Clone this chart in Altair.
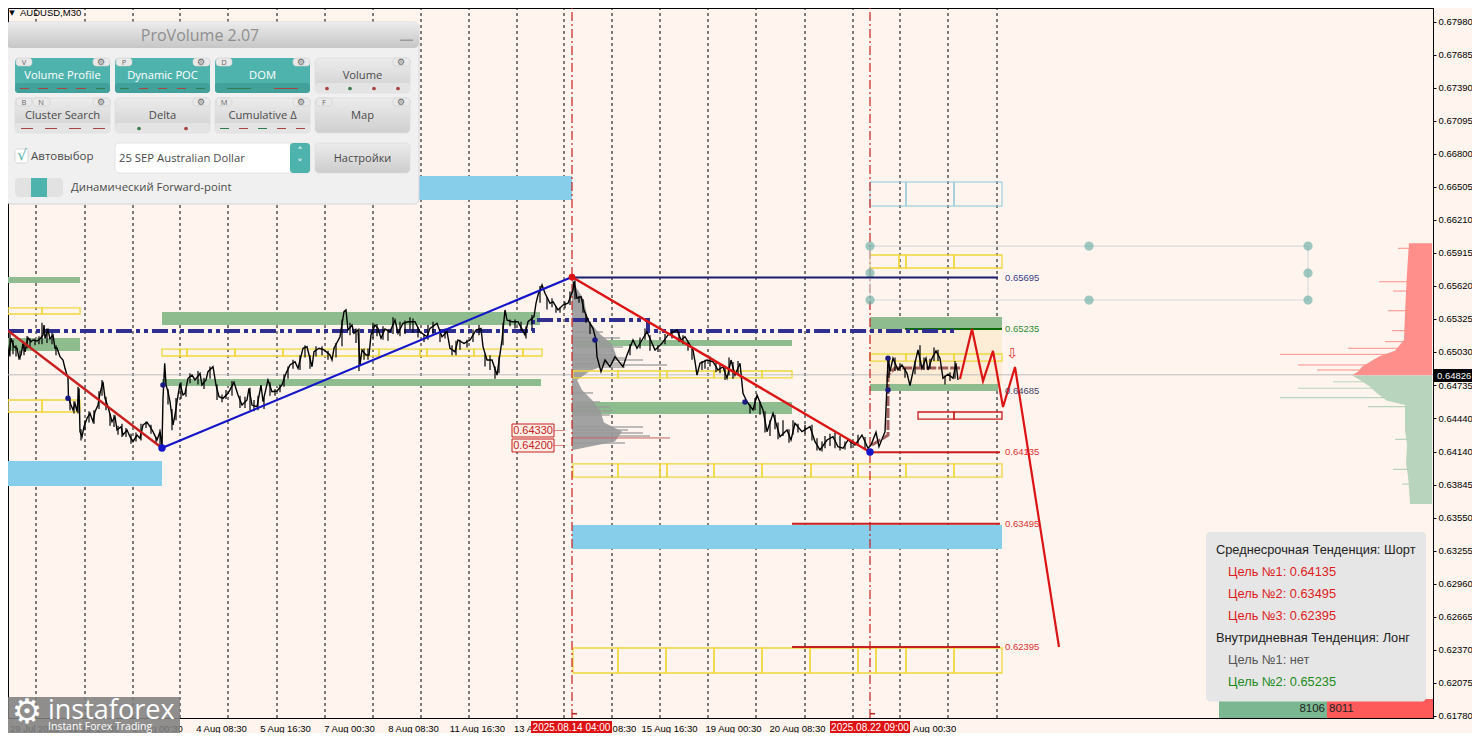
import altair as alt
import pandas as pd

# ---------- layout of the page ----------
W, H = 1425, 710
M = 8
X_DOMAIN = [8, 1433]
Y_DOMAIN = [0.61761, 0.68102]

# ---------- axis values ----------
price_ticks = [0.6798, 0.67685, 0.6739, 0.67095, 0.668, 0.66505, 0.6621, 0.65915, 0.6562, 0.65325, 0.6503,
               0.64735, 0.6444, 0.6414, 0.63845, 0.6355, 0.63255, 0.6296, 0.62665, 0.6237, 0.62075, 0.6178]
time_tick_pos = [34, 93, 157, 221, 285, 349, 413, 477, 523, 624, 669, 733, 797, 934]
time_tick_lab = ["29 Jul 2025", "31 Jul 16:30", "1 Aug 00:30", "4 Aug 08:30", "5 Aug 16:30", "7 Aug 00:30",
                 "8 Aug 08:30", "11 Aug 16:30", "13 A", "08:30", "15 Aug 16:30", "19 Aug 00:30",
                 "20 Aug 08:30", "Aug 00:30"]
grid_x = [36, 85, 133, 180, 228, 277, 325, 373, 421, 469, 517, 564, 612, 660, 708, 756, 805, 853, 900, 948, 997]

# ---------- price series (bar position, price in 1e-5) ----------
price_x = [6, 7, 9, 11, 14, 17, 19, 21, 23, 25, 28, 31, 33, 37, 40, 43, 44, 45, 48, 50, 53, 55, 57, 60, 63, 65, 68, 68.5,
           71, 73, 75, 77, 79, 80, 82, 84, 87, 90, 93, 95, 98, 100, 103, 105, 108, 112, 115, 117, 121, 123, 127, 130,
           133, 137, 140, 143, 147, 150, 153, 157, 160, 162, 163, 164.7, 166, 168, 170, 173, 175, 177, 180, 183, 185,
           188, 192, 195,
           200, 202, 206, 208, 213, 216, 219, 223, 228, 234, 238, 242, 247, 249, 252, 257, 261, 263, 268, 272, 277,
           282, 286, 290, 295, 298, 303, 307, 312, 314, 319, 324, 330, 332, 334, 340, 344, 346, 348, 352, 354, 358,
           360, 362, 366, 369, 371, 375, 378, 381, 385, 390, 395,
           398, 403, 408, 415, 420, 427, 430, 437, 442, 447, 450, 455, 458, 464, 470, 476, 481, 483, 487, 492, 497,
           502, 505, 507, 512, 518, 525, 528, 534, 536, 538, 542, 545, 550, 553, 558, 563, 568, 573, 574,
           577, 581, 584, 588, 593, 596, 597, 601, 605, 610, 615, 623, 627, 633, 637, 642, 647, 655, 662, 668, 677,
           681, 685, 693, 695, 697, 700, 707, 713, 718, 723, 727, 731, 735, 740, 743, 747, 753, 757, 763, 767, 773,
           780, 787, 791, 795, 802, 810, 815, 820, 827, 833, 838, 843, 848, 855, 862, 868,
           871, 876, 879, 885, 887, 888, 890, 893, 898, 902, 907, 910, 913, 918, 922, 926, 928, 932, 936, 940, 943,
           948, 953, 956, 958]
price_y = [65256, 65122, 64997, 65152, 65077, 65063, 64973, 65003, 65107, 65032, 65157, 65122, 65137, 65128, 65146,
           65182, 65271, 65152, 65226, 65146, 65182, 65063, 65065, 64988, 64958, 64884, 64795, 64616,
           64556, 64512, 64572, 64497, 64706, 64318, 64273, 64363, 64438, 64482, 64407, 64497, 64556, 64661, 64764,
           64616, 64541, 64407, 64452, 64333, 64363, 64288, 64333, 64273, 64229, 64288, 64259, 64378, 64402, 64363,
           64318, 64244, 64318, 64184, 64616, 64929, 64735, 64675, 64586, 64378, 64467, 64586, 64750, 64646, 64661,
           64795, 64824, 64780,
           64839, 64735, 64780, 64854, 64898, 64735, 64631, 64616, 64661, 64759, 64646, 64556, 64601, 64706, 64556,
           64541, 64735, 64586, 64780, 64675, 64681, 64735, 64839, 64914, 64943, 64884, 65063, 65077, 64898, 65032,
           65063, 65048, 65003, 64958, 65063, 65166, 65390, 65405, 65226, 65271, 65197, 65226, 64914, 65048, 65003,
           65003, 65182, 65271, 65241, 65152, 65235, 65211, 65315,
           65197, 65286, 65300, 65300, 65211, 65166, 65241, 65286, 65166, 65211, 65063, 65032, 65137, 65107, 65137,
           65226, 65241, 65077, 64958, 64958, 64824, 65137, 65405, 65315, 65300, 65300, 65182, 65300, 65345, 65465,
           65539, 65628, 65554, 65465, 65479, 65405, 65449, 65465, 65583, 65660,
           65509, 65524, 65405, 65315, 65241, 65137, 64988, 64854, 64958, 64898, 64988, 64898, 65003, 65137, 65063,
           65137, 65211, 65048, 65107, 65182, 65226, 65137, 65166, 65048, 64943, 64824, 64929, 64958, 64943, 64869,
           64898, 64795, 64958, 64824, 64929, 64661, 64586, 64512, 64646, 64512, 64318, 64482, 64273, 64333, 64244,
           64393, 64318, 64363, 64229, 64155, 64244, 64273, 64184, 64170, 64244, 64199, 64288, 64170,
           64199, 64313, 64184, 64318, 64735, 64973, 64854, 64973, 64869, 64914, 64839, 64729, 64854, 65048, 64884,
           64973, 64869, 64973, 65039, 64973, 64795, 64831, 64795, 64929, 64780]

bar_ranges = [(10, 65200, 64990), (13, 65140, 65010), (16, 65090, 64990), (20, 65040, 64960), (24, 65110, 65000),
              (27, 65170, 65060), (30, 65150, 65070), (35, 65150, 65090), (39, 65170, 65100), (42, 65290, 65100),
              (47, 65240, 65110), (52, 65200, 65100), (56, 65090, 65000), (70, 64620, 64510), (74, 64590, 64480),
              (78, 64720, 64480), (81, 64340, 64240), (85, 64420, 64330), (89, 64500, 64400), (94, 64510, 64390),
              (99, 64680, 64520), (102, 64780, 64640), (106, 64630, 64510), (110, 64480, 64370), (114, 64470, 64360),
              (118, 64370, 64290), (122, 64390, 64270), (126, 64350, 64270), (131, 64300, 64210), (136, 64310, 64230),
              (141, 64390, 64240), (146, 64410, 64350), (151, 64380, 64300), (156, 64270, 64210), (160, 64340, 64190),
              (168, 64700, 64560), (172, 64520, 64330), (176, 64620, 64420), (181, 64760, 64610), (186, 64700, 64630),
              (190, 64840, 64750), (198, 64860, 64740), (204, 64800, 64700), (210, 64900, 64790), (217, 64740, 64600),
              (222, 64650, 64580), (226, 64690, 64610), (232, 64770, 64640), (240, 64640, 64530), (245, 64630, 64530),
              (250, 64710, 64510), (254, 64600, 64500), (258, 64640, 64510), (264, 64620, 64520), (270, 64760, 64640),
              (275, 64700, 64640), (280, 64740, 64670), (284, 64830, 64720), (288, 64900, 64790), (293, 64960, 64880),
              (300, 65000, 64870), (305, 65090, 64980), (310, 65000, 64880), (316, 65080, 64990), (322, 65080, 65000),
              (328, 65040, 64960), (336, 65110, 64980), (342, 65320, 65080), (350, 65290, 65180), (356, 65240, 65110),
              (359, 65240, 64860), (364, 65060, 64960), (368, 65060, 64960), (373, 65290, 65150), (377, 65280, 65170),
              (383, 65260, 65140), (388, 65230, 65130), (393, 65340, 65190), (400, 65300, 65170), (405, 65310, 65190),
              (410, 65340, 65230), (413, 65330, 65200), (418, 65250, 65160), (424, 65190, 65120), (428, 65270, 65140),
              (433, 65300, 65190), (440, 65220, 65120), (445, 65240, 65150), (452, 65090, 65000), (456, 65130, 65000),
              (460, 65140, 65050), (467, 65140, 65070), (473, 65230, 65120), (479, 65270, 65180), (485, 65010, 64900),
              (490, 65000, 64870), (495, 64900, 64790), (499, 64990, 64840), (503, 65290, 65090), (510, 65320, 65260),
              (515, 65320, 65240), (521, 65300, 65220), (526, 65260, 65150), (532, 65360, 65240), (540, 65620, 65470),
              (547, 65520, 65410), (552, 65510, 65430), (556, 65440, 65380), (560, 65430, 65380), (565, 65480, 65420),
              (570, 65570, 65450), (575, 65670, 65500), (579, 65530, 65470), (583, 65500, 65380), (586, 65370, 65290),
              (590, 65300, 65190), (630, 65100, 65000), (640, 65160, 65060), (645, 65240, 65140), (650, 65180, 65040),
              (658, 65090, 65030), (665, 65190, 65100), (672, 65230, 65150), (679, 65210, 65120), (683, 65180, 65100),
              (688, 65120, 65040), (692, 65060, 64960), (702, 64950, 64870), (705, 64960, 64880), (710, 64990, 64900),
              (716, 64950, 64850), (720, 64920, 64840), (725, 64890, 64780), (729, 64980, 64820), (733, 64940, 64790),
              (738, 64950, 64830), (750, 64560, 64480), (755, 64620, 64510), (760, 64590, 64470), (765, 64500, 64310),
              (770, 64420, 64280), (775, 64470, 64340), (778, 64400, 64250), (783, 64420, 64280), (789, 64340, 64220),
              (793, 64420, 64290), (798, 64390, 64310), (805, 64380, 64300), (812, 64380, 64240), (817, 64260, 64150),
              (822, 64230, 64140), (825, 64280, 64170), (830, 64300, 64190), (835, 64310, 64170), (840, 64280, 64150),
              (845, 64230, 64160), (851, 64230, 64170), (858, 64290, 64190), (865, 64270, 64160), (889, 64980, 64800),
              (895, 64980, 64860), (900, 64930, 64860), (905, 64890, 64800), (915, 64950, 64830), (920, 65090, 64900),
              (924, 64980, 64870), (930, 64970, 64880), (934, 65070, 64950), (938, 65050, 64950), (945, 64820, 64740),
              (950, 64850, 64770), (955, 64950, 64790)]

# ---------- zones: x from, x to, price top, price bottom (1e-5) ----------
blue_zones = [(162, 572, 66601, 66387), (8, 162, 64056, 63833), (572, 1002, 63485, 63270)]
green_zones = [(8, 80, 65699, 65646), (8, 80, 65155, 65039), (162, 540, 65387, 65271), (162, 541, 64789, 64726),
               (572, 792, 65137, 65083), (572, 792, 64583, 64476), (870, 1002, 65342, 65235), (870, 998, 64744, 64681)]
beige_zones = [(870, 1002, 65235, 64744)]
yellow_boxes = [(8, 42, 65423, 65369), (42, 80, 65423, 65369), (8, 42, 64601, 64494), (42, 80, 64601, 64494),
                (162, 180, 65056, 64994), (180, 187, 65056, 64994), (187, 235, 65056, 64994), (235, 283, 65056, 64994),
                (283, 379, 65056, 64994), (379, 420, 65056, 64994), (420, 427, 65056, 64994), (427, 474, 65056, 64994),
                (474, 523, 65056, 64994), (523, 542, 65056, 64994),
                (573, 618, 64860, 64798), (618, 660, 64860, 64798), (660, 667, 64860, 64798), (667, 714, 64860, 64798),
                (714, 762, 64860, 64798), (762, 792, 64860, 64798),
                (573, 618, 64030, 63913), (618, 660, 64030, 63913), (660, 667, 64030, 63913), (667, 714, 64030, 63913),
                (714, 762, 64030, 63913), (762, 811, 64030, 63913), (811, 858, 64030, 63913), (858, 906, 64030, 63913),
                (906, 954, 64030, 63913), (954, 1002, 64030, 63913),
                (573, 618, 62386, 62163), (618, 666, 62386, 62163), (666, 714, 62386, 62163), (714, 762, 62386, 62163),
                (762, 810, 62386, 62163), (810, 858, 62386, 62163), (858, 876, 62386, 62163), (876, 906, 62386, 62163),
                (906, 954, 62386, 62163), (954, 1002, 62386, 62163),
                (870, 899, 65896, 65780), (899, 906, 65896, 65780), (906, 954, 65896, 65780), (954, 1002, 65896, 65780),
                (870, 906, 65012, 64949), (906, 954, 65012, 64949), (954, 1002, 65012, 64949)]
red_boxes = [(918, 954, 64494, 64431), (954, 1002, 64494, 64431)]
sky_boxes = [(870, 906, 66548, 66333), (906, 954, 66548, 66333), (954, 1002, 66548, 66333)]

# ---------- volume profiles: body outline and thin spikes ----------
left_base = 572
left_body_p = [65673, 65628, 65494, 65315, 65190, 65100, 64958, 64860, 64780, 64690, 64600, 64510, 64400, 64320, 64230, 64155]
left_body_v = [573, 575, 584, 588, 600, 612, 618, 590, 577, 582, 592, 600, 604, 622, 615, 573]
left_spike_p = [65208, 65155, 65074, 65003, 64976, 64958, 64931, 64914, 64896, 64664, 64583, 64539, 64503, 64467, 64360,
                64333, 64306, 64280, 64217]
left_spike_v = [603, 620, 623, 615, 625, 643, 623, 667, 625, 593, 600, 610, 612, 610, 643, 628, 643, 650, 625]
right_base = 1432
red_body_p = [66000, 65732, 65554, 65375, 65137, 65041, 64994, 64958, 64898, 64854, 64822]
red_body_v = [1409, 1407, 1406, 1405, 1404, 1395, 1380, 1373, 1362, 1358, 1352]
red_spike_p = [65956, 65657, 65574, 65398, 65220, 65122, 65063, 65009, 64914, 64869]
red_spike_v = [1398, 1379, 1393, 1388, 1392, 1385, 1348, 1280, 1298, 1317]
green_body_p = [64820, 64780, 64720, 64661, 64595, 64556, 64333, 64199, 64036, 63915, 63811, 63672]
green_body_v = [1352, 1360, 1370, 1377, 1387, 1405, 1405, 1407, 1406, 1408, 1409, 1410]
green_spike_p = [64764, 64706, 64622, 64541, 64250, 63982, 63850]
green_spike_v = [1333, 1298, 1280, 1368, 1395, 1393, 1402]

# ---------- drawn lines ----------
fall1 = [(8, 65220), (162, 64172)]
rise1 = [(162, 64172), (572, 65699)]
fall2 = [(572, 65699), (870, 64137)]
forecast = [(960, 64789), (972, 65235), (983, 64771), (993, 65039), (1003, 64539), (1015, 64896), (1059, 62395)]
poc_line = [(8, 65217), (533, 65217), (533, 65315), (648, 65315), (648, 65217), (958, 65217)]
brown_line = [(872, 64199), (888, 64288), (888, 64824), (895, 64887), (942, 64887), (960, 64887)]
levels = [(572, 998, 65695, "#1b1b6e"), (905, 1002, 65235, "#0b6b0b"), (870, 1000, 64135, "#c81e1e"),
          (792, 1000, 63495, "#c81e1e"), (792, 1000, 62395, "#c81e1e")]
level_labels = [(1005, 65695, "0.65695", "#3c3c8c"), (1005, 65235, "0.65235", "#2e8b2e"), (1005, 64681, "0.64685", "#444466"),
                (1005, 64135, "0.64135", "#e03030"), (1005, 63495, "0.63495", "#e03030"), (1005, 62395, "0.62395", "#e03030")]
small_dots = [(68, 64616), (163, 64735), (595, 65137), (745, 64583), (888, 64690), (888, 64973)]
node_blue = [(162, 64172), (870, 64137)]
node_red = [(572, 65699)]
target_dots = [(870, 65976), (870, 65735), (870, 65494), (1089, 65976), (1089, 65494), (1308, 65976), (1308, 65735), (1308, 65494)]
target_h = [(870, 1308, 65976), (870, 1308, 65494)]
target_v = [(870, 65976, 65494), (1308, 65976, 65494)]
red_vlines = [572, 870]
last_price = 0.64826

# ---------- text of the overlays ----------
info_lines = [("Среднесрочная Тенденция: Шорт", 1216, 550, "#222222"), ("Цель №1: 0.64135", 1228, 572, "#dd1c1c"),
              ("Цель №2: 0.63495", 1228, 594, "#dd1c1c"), ("Цель №3: 0.62395", 1228, 616, "#dd1c1c"),
              ("Внутридневная Тенденция: Лонг", 1216, 638, "#222222"), ("Цель №1: нет", 1228, 660, "#555555"),
              ("Цель №2: 0.65235", 1228, 682, "#1a8a1a")]
buyers, sellers = "8106", "8011"

# ---------- helpers ----------
AXF = "Liberation Sans"
label_map = ",".join(f"'{p}':'{t}'" for p, t in zip(time_tick_pos, time_tick_lab))
XAX = alt.Axis(values=time_tick_pos, labelExpr="{" + label_map + "}['' + datum.value]", grid=False, tickSize=0,
               labelFont=AXF, labelFontSize=9.5, labelColor="#000000", labelPadding=5, labelOverlap=False,
               domainColor="#000000", labelFlush=False, title=None)
YAX = alt.Axis(orient="right", values=price_ticks, format=".5f", grid=False, tickSize=3, tickColor="#000000",
               domainColor="#000000", labelFont=AXF, labelFontSize=9.5, labelColor="#000000", labelPadding=2,
               labelOverlap=False, title=None)
XS = alt.Scale(domain=X_DOMAIN, range=[0, W], nice=False, zero=False)
YS = alt.Scale(domain=Y_DOMAIN, range=[H, 0], nice=False, zero=False)
mx = alt.X("x:Q", scale=XS, axis=XAX)
my = alt.Y("y:Q", scale=YS, axis=YAX)


def zone(rows, **mark):
    df = pd.DataFrame([dict(x=a, x1=b, y=t / 1e5, y1=u / 1e5) for a, b, t, u in rows])
    return alt.Chart(df).mark_rect(**mark).encode(x=mx, x2=alt.X2("x1"), y=my, y2=alt.Y2("y1"))


def line(pts, **mark):
    df = pd.DataFrame([dict(x=a, y=b / 1e5, i=i) for i, (a, b) in enumerate(pts)])
    return alt.Chart(df).mark_line(**mark).encode(x=mx, y=my, order="i:Q")


def dots(pts, **mark):
    df = pd.DataFrame([dict(x=a, y=b / 1e5) for a, b in pts])
    return alt.Chart(df).mark_circle(**mark).encode(x=mx, y=my)


def profile(ps, vs, base, **mark):
    df = pd.DataFrame(dict(y=[p / 1e5 for p in ps], x=vs, b=[base] * len(vs)))
    return alt.Chart(df).mark_area(orient="horizontal", **mark).encode(y=my, x=mx, x2=alt.X2("b"))


def spikes(ps, vs, base, **mark):
    df = pd.DataFrame(dict(y=[p / 1e5 for p in ps], x=vs, b=[base] * len(vs)))
    return alt.Chart(df).mark_rule(**mark).encode(y=my, x=mx, x2=alt.X2("b"))


def ranges(rows, **mark):
    df = pd.DataFrame([dict(x=a, y=h / 1e5, y1=l / 1e5) for a, h, l in rows])
    return alt.Chart(df).mark_rule(**mark).encode(x=mx, y=my, y2=alt.Y2("y1"))


px_x = alt.X("a:Q", scale=None, axis=None)
px_y = alt.Y("c:Q", scale=None, axis=None)


def pbox(rows, **mark):
    df = pd.DataFrame([dict(a=r[0] - M, b=r[1] - M, c=r[2] - M, d=r[3] - M) for r in rows])
    return alt.Chart(df).mark_rect(**mark).encode(x=px_x, x2=alt.X2("b"), y=px_y, y2=alt.Y2("d"))


def ptext(rows, **mark):
    df = pd.DataFrame([dict(a=r[0] - M, c=r[1] - M, t=r[2]) for r in rows])
    return alt.Chart(df).mark_text(baseline="middle", **mark).encode(x=px_x, y=px_y, text="t:N")


def pdots(rows, **mark):
    df = pd.DataFrame([dict(a=r[0] - M, c=r[1] - M) for r in rows])
    return alt.Chart(df).mark_circle(**mark).encode(x=px_x, y=px_y)


def grad(top, bottom):
    return alt.LinearGradient(gradient="linear", x1=0, x2=0, y1=0, y2=1,
                              stops=[alt.GradientStop(color=top, offset=0), alt.GradientStop(color=bottom, offset=1)])


# ---------- market layers ----------
base = alt.Chart(pd.DataFrame(dict(x=grid_x, y=[Y_DOMAIN[0]] * len(grid_x)))).mark_rule(
    color="#000000", strokeWidth=1, strokeDash=[3, 3]).encode(x=mx, y=my, y2=alt.value(0))

layers = [base]
layers.append(zone(beige_zones, fill="#fdecd6"))
layers.append(zone(blue_zones, fill="#87ceeb"))
layers.append(zone(green_zones, fill="#8fbc8f"))
layers.append(line([(8, last_price * 1e5), (1433, last_price * 1e5)], color="#bdbdbd", strokeWidth=1))
layers.append(profile(left_body_p, left_body_v, left_base, color="#999999", opacity=0.9))
layers.append(spikes(left_spike_p, left_spike_v, left_base, color="#999999", strokeWidth=1.5, opacity=0.85))
layers.append(profile(red_body_p, red_body_v, right_base, color="#ff8f8a"))
layers.append(spikes(red_spike_p, red_spike_v, right_base, color="#ff8f8a", strokeWidth=1))
layers.append(profile(green_body_p, green_body_v, right_base, color="#b9d4bc"))
layers.append(spikes(green_spike_p, green_spike_v, right_base, color="#b9d4bc", strokeWidth=1.2))
layers.append(line([(572, 64262), (670, 64262)], color="#c86060", strokeWidth=1))
layers.append(zone(yellow_boxes, fill="transparent", stroke="#f0d83c", strokeWidth=1.3))
layers.append(zone(red_boxes, fill="transparent", stroke="#c81e1e", strokeWidth=1.3))
layers.append(zone(sky_boxes, fill="transparent", stroke="#8cc6dc", strokeWidth=1))
for xv in red_vlines:
    layers.append(line([(xv, Y_DOMAIN[0] * 1e5), (xv, Y_DOMAIN[1] * 1e5)], color="#c81e1e", strokeWidth=1.2,
                       strokeDash=[9, 3, 2, 3]))
for y_ in target_h:
    layers.append(line([(y_[0], y_[2]), (y_[1], y_[2])], color="#d9d9d9", strokeWidth=1.2))
for v_ in target_v:
    layers.append(line([(v_[0], v_[1]), (v_[0], v_[2])], color="#d9d9d9", strokeWidth=1.2))
layers.append(dots(target_dots, color="#5fa8a0", opacity=0.6, size=85))
for a, b, p, col in levels:
    layers.append(line([(a, p), (b, p)], color=col, strokeWidth=2))
layers.append(line(poc_line, color="#2f2f8f", strokeWidth=4, strokeDash=[16, 4, 4, 4, 4, 4]))
layers.append(line(brown_line, color="#8b3a3a", strokeWidth=3, strokeDash=[10, 2], opacity=0.8))
layers.append(ranges(bar_ranges, color="#000000", strokeWidth=1.2))
layers.append(line(list(zip(price_x, price_y)), color="#000000", strokeWidth=1.4))
layers.append(line(fall1, color="#c81e1e", strokeWidth=2.4))
layers.append(line(rise1, color="#1414c8", strokeWidth=2.2))
layers.append(line(fall2, color="#dc1414", strokeWidth=2.4))
layers.append(line(forecast, color="#dc1414", strokeWidth=2.2))
layers.append(dots(small_dots, color="#1a1a80", size=30, opacity=1))
layers.append(dots(node_blue, color="#1414c8", size=55, opacity=1))
layers.append(dots(node_red, color="#dc1414", size=45, opacity=1))
lab_df = pd.DataFrame([dict(x=a, y=p / 1e5, t=t, c=c) for a, p, t, c in level_labels])
layers.append(alt.Chart(lab_df).mark_text(align="left", baseline="middle", font=AXF, fontSize=9.5).encode(
    x=mx, y=my, text="t:N", color=alt.Color("c:N", scale=None)))
layers.append(ptext([(1012, 354, "⇩")], font="DejaVu Sans", fontSize=14, color="#e03030", align="center"))

# price tags
layers.append(pbox([(512, 554, 424, 437), (512, 554, 439, 452)], fill="#fdeee6", stroke="#c81e1e", strokeWidth=1))
layers.append(pbox([(554, 565, 430.5, 431), (554, 565, 445, 445.5)], fill="#c81e1e"))
layers.append(ptext([(533, 431, "0.64330"), (533, 446, "0.64200")], font=AXF, fontSize=11, color="#c81e1e", align="center"))

# info box and delta bar
layers.append(pbox([(1219, 1327, 699, 718)], fill="#7bb892"))
layers.append(pbox([(1327, 1433, 699, 718)], fill="#ff5a5a"))
layers.append(pbox([(1206, 1426, 532, 701.5)], fill="#e6e6e6", cornerRadius=4))
for t, xv, yv, c in info_lines:
    layers.append(ptext([(xv, yv, t)], font="Liberation Sans", fontSize=12.8, color=c, align="left"))
layers.append(ptext([(1325, 709, buyers)], font="Liberation Sans", fontSize=11.5, color="#222222", align="right"))
layers.append(ptext([(1329, 709, sellers)], font="Liberation Sans", fontSize=11.5, color="#222222", align="left"))

# last price tag, time tags
layers.append(pbox([(1434, 1473, 369, 382)], fill="#000000"))
layers.append(ptext([(1437, 375.5, "0.64826")], font=AXF, fontSize=9.5, color="#ffffff", align="left"))
layers.append(pbox([(531, 612, 721, 733), (830, 910, 721, 733)], fill="#dd1111"))
layers.append(ptext([(571.5, 727.5, "2025.08.14 04:00"), (870, 727.5, "2025.08.22 09:00")], font=AXF, fontSize=10,
                    color="#ffffff", align="center"))
layers.append(pbox([(572, 577, 713, 714.5), (870, 875, 713, 714.5)], fill="#c81e1e"))

# symbol caption
layers.append(ptext([(12, 13, "▼")], font="DejaVu Sans", fontSize=7, color="#000000", align="center"))
layers.append(ptext([(20, 12.5, "AUDUSD,M30")], font=AXF, fontSize=9.5, color="#000000", align="left"))

# ---------- ProVolume panel ----------
layers.append(pbox([(6, 419, 22, 204)], fill="#f0f0f0", cornerRadius=5, stroke="#d6d6d6", strokeWidth=1))
layers.append(pbox([(6, 419, 22, 48)], fill=grad("#ececec", "#c6c6c6"), cornerRadius=5))
layers.append(ptext([(200, 36, "ProVolume 2.07")], font="Open Sans", fontSize=16, color="#8f8f8f", align="center"))
layers.append(pbox([(400, 413, 39.5, 41)], fill="#9a9a9a"))

TEAL = "#4fb3ad"
teal_btn = [(15, 110, 58, 93), (115, 210, 58, 93), (215, 310, 58, 93)]
gray_btn = [(315, 410, 58, 93), (15, 110, 98, 133), (115, 210, 98, 133), (215, 310, 98, 133), (315, 410, 98, 133)]
layers.append(pbox(teal_btn, fill=TEAL, cornerRadius=4))
layers.append(pbox([(r[0], r[1], 83, 93) for r in teal_btn], fill="#43a19b", cornerRadius=3))
layers.append(pbox(gray_btn, fill=grad("#ececec", "#cfcfcf"), cornerRadius=4, stroke="#dddddd", strokeWidth=0.8))
layers.append(pbox([(r[0], r[1], r[3] - 10, r[3]) for r in gray_btn if r[:2] != (315, 410) or r[2] == 58],
                   fill="#e4e4e4", cornerRadius=3))
# tabs with shortcut letters and gears
tabs = [(16, 32, 58, 66), (116, 132, 58, 66), (216, 232, 58, 66), (16, 32, 98, 106), (33, 50, 98, 106), (216, 232, 98, 106),
        (316, 332, 98, 106), (93, 110, 58, 66), (193, 210, 58, 66), (293, 310, 58, 66), (393, 410, 58, 66),
        (93, 110, 98, 106), (193, 210, 98, 106), (293, 310, 98, 106), (393, 410, 98, 106)]
layers.append(pbox(tabs, fill="#e9e9e9", cornerRadius=3, stroke="#cfcfcf", strokeWidth=0.6))
layers.append(ptext([(24, 62.5, "V"), (124, 62.5, "P"), (224, 62.5, "D"), (24, 102.5, "B"), (41, 102.5, "N"),
                     (224, 102.5, "M"), (324, 102.5, "F")], font="Open Sans", fontSize=7.5, color="#666666", align="center"))
layers.append(ptext([(101, 62, "⚙"), (201, 62, "⚙"), (301, 62, "⚙"), (401, 62, "⚙"), (101, 102, "⚙"), (201, 102, "⚙"),
                     (301, 102, "⚙"), (401, 102, "⚙")], font="DejaVu Sans", fontSize=9, color="#666666", align="center"))
layers.append(ptext([(62.5, 76, "Volume Profile"), (162.5, 76, "Dynamic POC"), (262.5, 76, "DOM")], font="Open Sans",
                    fontSize=11.2, color="#ffffff", align="center"))
layers.append(ptext([(362.5, 76, "Volume"), (62.5, 116, "Cluster Search"), (162.5, 116, "Delta"),
                     (262.5, 116, "Cumulative Δ"), (362.5, 116, "Map")], font="Open Sans", fontSize=11.2,
                    color="#4a4a4a", align="center"))
red_dash = [(20, 29, 88, 89), (38, 48, 88, 89), (57, 67, 88, 89), (76, 86, 88, 89), (139, 148, 88, 89), (158, 167, 88, 89),
            (177, 186, 88, 89), (274, 298, 88, 89), (21, 33, 128, 129), (45, 57, 128, 129), (69, 81, 128, 129),
            (93, 105, 128, 129), (239, 248, 128, 129), (277, 286, 128, 129), (296, 305, 128, 129)]
green_dash = [(96, 105, 88, 89), (120, 129, 88, 89), (196, 205, 88, 89), (227, 251, 88, 89), (220, 229, 128, 129),
              (258, 267, 128, 129)]
layers.append(pbox(red_dash, fill="#a8453f"))
layers.append(pbox(green_dash, fill="#2f7d4f"))
layers.append(pdots([(327, 88.5), (374, 88.5), (398, 88.5), (186, 128.5)], color="#a8453f", size=14, opacity=1))
layers.append(pdots([(350, 88.5), (139, 128.5)], color="#3f7d4f", size=14, opacity=1))
# lower controls
layers.append(pbox([(15, 28, 149, 163)], fill="#ffffff", stroke="#d0d0d0", strokeWidth=0.8, cornerRadius=2))
layers.append(ptext([(22, 155, "√")], font="DejaVu Sans", fontSize=15, color=TEAL, align="center"))
layers.append(ptext([(31, 157, "Автовыбор")], font="Open Sans", fontSize=11.5, color="#4a4a4a", align="left"))
layers.append(pbox([(115, 310, 143, 173)], fill="#ffffff", cornerRadius=4, stroke="#dddddd", strokeWidth=0.8))
layers.append(pbox([(290, 310, 143, 173)], fill=TEAL, cornerRadius=3))
layers.append(ptext([(300, 152, "˄"), (300, 164, "˅")], font="DejaVu Sans", fontSize=11, color="#ffffff", align="center"))
layers.append(ptext([(119, 159, "25 SEP Australian Dollar")], font="Open Sans", fontSize=11.3, color="#4a4a4a", align="left"))
layers.append(pbox([(315, 410, 143, 173)], fill=grad("#ececec", "#cccccc"), cornerRadius=4, stroke="#dddddd", strokeWidth=0.8))
layers.append(ptext([(362.5, 159, "Настройки")], font="Open Sans", fontSize=11, color="#4a4a4a", align="center"))
layers.append(pbox([(15, 63, 178, 197)], fill="#e2e2e2", cornerRadius=4))
layers.append(pbox([(31, 47, 178, 197)], fill=TEAL))
layers.append(ptext([(71, 188, "Динамический Forward-point")], font="Open Sans", fontSize=11.3, color="#4a4a4a", align="left"))

# ---------- logo ----------
layers.append(pbox([(8, 180, 697, 733)], fill="#7f7f7f", opacity=0.88))
layers.append(ptext([(27, 713, "⚙")], font="DejaVu Sans", fontSize=34, color="#ffffff", align="center"))
layers.append(ptext([(48, 711, "instaforex")], font="Open Sans", fontSize=27, color="#ffffff", align="left"))
layers.append(ptext([(48, 727, "Instant Forex Trading")], font="Open Sans", fontSize=10.5, color="#ffffff", align="left"))

chart = alt.layer(*layers).properties(
    width=W, height=H, background="#fff5ee",
    padding={"left": 0, "top": 0, "right": 39, "bottom": 15},
    autosize=alt.AutoSizeParams(type="none"),
).configure_view(fill="#fff5ee", stroke="#000000", strokeWidth=1)

chart.save("out.html", embed_options={"renderer": "svg", "actions": False})
